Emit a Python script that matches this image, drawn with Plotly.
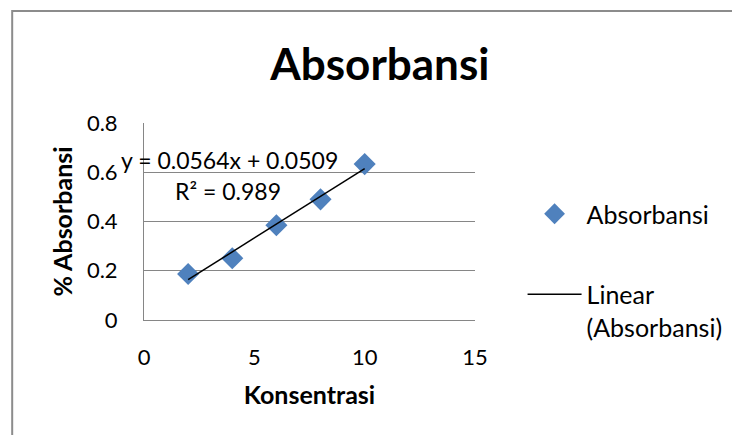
import plotly.graph_objects as go

# ---- data ----
konsentrasi = [2, 4, 6, 8, 10]
absorbansi = [0.187, 0.251, 0.385, 0.490, 0.633]
slope = 0.0564
intercept = 0.0509
r_squared = 0.989
x_ticks = [0, 5, 10, 15]
y_ticks = [0, 0.2, 0.4, 0.6, 0.8]
y_tick_labels = ["0", "0.2", "0.4", "0.6", "0.8"]

FONT = "Lato"
GRID = "#868686"

# page body margin offset (browser default)
O = 8
# plot area in screen pixels
L, R, T, B = 144, 478, 123, 320
W, H = 740 - O, 435 - O
pw, ph = R - L, B - T


def px(xs):
    return (xs - L) / pw


def py(ys):
    return (B - ys) / ph


trend_x = [konsentrasi[0], konsentrasi[-1]]
trend_y = [slope * v + intercept for v in trend_x]

fig = go.Figure()
fig.add_trace(go.Scatter(
    x=konsentrasi, y=absorbansi, mode="markers", name="Absorbansi",
    marker=dict(symbol="diamond", size=17, color="#4F81BD",
                line=dict(width=0)),
    legendgroup="a",
))
fig.add_trace(go.Scatter(
    x=trend_x, y=trend_y, mode="lines", name="Linear<br>(Absorbansi)",
    line=dict(color="black", width=1.5),
    legendgroup="b",
))

fig.update_layout(
    width=W, height=H,
    margin=dict(l=L - O, r=W - (R - O), t=T - O, b=H - (B - O), pad=0),
    paper_bgcolor="white", plot_bgcolor="white",
    font=dict(family=FONT, size=22, color="black"),
    title=dict(text="<b>Absorbansi</b>", font=dict(family=FONT, size=44, color="black"),
               x=px(382), xref="paper", xanchor="center",
               y=1 - (65 - O) / H, yref="container", yanchor="middle"),
    showlegend=True,
    legend=dict(x=px(526), xanchor="left", y=py(191), yanchor="top",
                font=dict(family=FONT, size=25, color="black"),
                tracegroupgap=45, itemwidth=54, traceorder="grouped",
                valign="top", bgcolor="rgba(0,0,0,0)"),
    xaxis=dict(range=[0, 15], tickvals=x_ticks, showgrid=False, zeroline=False,
               showline=True, linecolor=GRID, linewidth=1, ticks="",
               ticklabelstandoff=18,
               title=dict(text="<b>Konsentrasi</b>", font=dict(family=FONT, size=25),
                          standoff=17),
               fixedrange=True),
    yaxis=dict(range=[0, 0.8], tickvals=y_ticks, ticktext=y_tick_labels,
               showgrid=True, gridcolor=GRID, gridwidth=1, zeroline=False,
               showline=True, linecolor=GRID, linewidth=1, ticks="",
               ticklabelstandoff=21,
               title=dict(text="<b>% Absorbansi</b>", font=dict(family=FONT, size=25),
                          standoff=7),
               fixedrange=True),
    annotations=[
        dict(x=px(230), y=py(160), xref="paper", yref="paper",
             text=f"y = {slope}x + {intercept}", showarrow=False,
             font=dict(family=FONT, size=23, color="black"),
             xanchor="center", yanchor="middle"),
        dict(x=px(229), y=py(191), xref="paper", yref="paper",
             text=f"R² = {r_squared}", showarrow=False,
             font=dict(family=FONT, size=23, color="black"),
             xanchor="center", yanchor="middle"),
    ],
    shapes=[dict(type="path", xref="paper", yref="paper",
                 path=f"M {px(11)} {py(445)} L {px(11)} {py(11)} L {px(750)} {py(11)}",
                 line=dict(color="#8C8C8C", width=2), layer="below")],
)

fig.write_html("out.html")
